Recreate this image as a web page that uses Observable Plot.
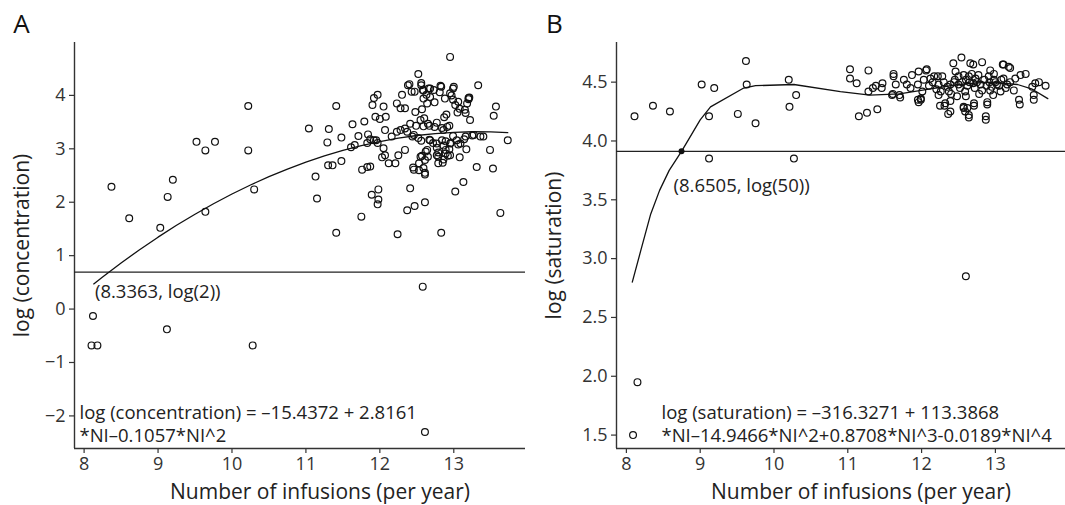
<!DOCTYPE html>
<html><head><meta charset="utf-8">
<script src="https://cdn.jsdelivr.net/npm/d3@7"></script>
<script src="https://cdn.jsdelivr.net/npm/@observablehq/plot@0.6"></script>
<style>
body{margin:0;background:#fff;}
#wrap{position:relative;width:1065px;height:505px;font-family:"Open Sans",sans-serif;}
#a,#b{position:absolute;top:0;}
#a{left:0;}#b{left:532px;}
svg{overflow:visible;}
</style></head><body><div id="wrap"><div id="a"></div><div id="b"></div></div>
<script>
// ---------- Panel A: log(concentration) ----------
const concX = [8.12,8.10,8.18,9.12,10.28,8.37,8.61,9.03,9.13,9.20,9.52,9.64,9.77,9.64,10.22,10.22,10.30,12.58,12.61,
11.04,11.31,11.29,11.48,11.41,11.63,11.79,11.71,11.61,11.66,11.84,11.87,11.95,11.30,11.36,11.48,11.13,11.15,11.76,11.83,11.87,11.98,11.89,11.98,11.97,11.75,11.41,12.24,11.92,11.97,11.90,12.05,11.94,12.00,12.08,12.23,12.30,12.34,12.28,12.38,12.07,12.16,12.23,12.28,12.34,12.05,12.07,12.03,12.12,12.21,12.25,12.34,11.83,11.92,11.97,12.37,
12.95,12.52,12.40,12.56,12.43,12.47,12.58,12.66,12.73,12.82,13.00,12.95,13.33,13.20,13.18,13.06,13.02,13.57,13.54,13.22,13.73,13.27,13.36,13.40,13.16,13.09,13.04,13.49,13.31,13.53,13.13,13.02,13.63,13.08,12.85,12.41,12.47,12.61,12.83,12.48,12.55,12.60,12.67,12.41,12.37,12.44,12.52,12.68,12.77,12.86,12.91,12.84,12.95,12.89,12.95,12.77,12.64,12.57,12.46,12.59,12.61,12.86,
12.56,12.59,12.63,12.68,12.81,12.83,12.99,12.97,12.99,13.20,13.21,13.15,13.16,13.08,13.05,12.94,12.90,12.87,12.84,12.77,12.74,12.65,12.59,12.49,12.57,12.64,12.68,12.59,12.74,12.88,12.46,12.56,12.67,12.72,12.62,12.55,12.61,12.53,12.45,12.61,12.53,12.65,12.79,12.77,12.86,12.79,12.79,12.89,12.92,12.94,12.96,12.99,13.06,12.89,13.17,13.14,13.25];
const concY = [-0.13,-0.68,-0.68,-0.38,-0.68,2.29,1.70,1.52,2.10,2.42,3.13,2.97,3.13,1.82,3.80,2.97,2.24,0.42,-2.30,
3.38,3.37,3.12,3.21,3.80,3.46,3.51,3.24,3.03,3.07,3.27,3.18,3.16,2.69,2.69,2.77,2.48,2.07,2.61,2.66,2.67,2.24,2.14,2.05,1.96,1.73,1.43,1.40,3.95,4.01,3.82,3.79,3.60,3.56,3.60,3.85,4.01,3.76,3.76,4.19,3.35,3.23,3.32,3.35,3.38,3.01,2.88,2.84,2.73,2.73,2.88,2.98,3.11,3.16,3.11,1.85,
4.72,4.40,4.21,4.23,4.07,4.07,4.10,4.13,4.10,4.18,4.16,4.04,4.19,3.95,3.85,3.88,3.82,3.79,3.62,3.54,3.16,3.26,3.23,3.23,3.23,3.10,3.16,2.98,2.66,2.63,2.38,2.20,1.80,2.84,2.74,2.26,1.93,2.00,1.43,3.69,3.54,3.57,3.43,3.47,3.32,3.23,3.20,3.16,3.10,3.35,3.41,3.16,3.10,2.98,2.88,2.88,2.98,2.87,2.61,2.64,2.52,2.80,
4.19,4.09,4.01,4.13,4.06,4.16,4.13,4.00,3.92,3.93,3.96,3.73,3.67,3.75,3.68,3.43,3.64,3.59,3.39,3.49,3.41,3.47,3.42,3.43,3.74,3.85,3.97,3.94,3.87,3.94,3.26,3.15,3.17,3.11,2.95,2.85,2.79,2.73,2.65,2.55,2.60,2.85,2.85,3.02,3.06,2.73,2.93,2.91,2.87,2.99,3.11,3.24,3.08,3.14,2.99,3.18,3.25];
// fitted curve (values of the printed quadratic, sampled)
const fitA_x = [8.13,8.25,8.5,8.75,9,9.25,9.5,9.75,10,10.25,10.5,10.75,11,11.25,11.5,11.75,12,12.25,12.5,12.75,13,13.25,13.5,13.73];
const fitA_y = [0.471,0.601,0.863,1.111,1.346,1.568,1.776,1.972,2.154,2.323,2.479,2.621,2.750,2.866,2.969,3.059,3.135,3.198,3.249,3.285,3.309,3.319,3.316,3.302];
const cutA = [{x: 8.3363, y: 0.6931, label: "(8.3363, log(2))"}];
const eqA = "log (concentration) = \u201315.4372 + 2.8161\n*NI\u20130.1057*NI^2";

// ---------- Panel B: log(saturation) ----------
const satX = [8.09,8.15,12.60,
8.11,8.36,8.59,9.02,9.19,9.12,9.12,9.51,9.62,9.63,9.75,10.20,10.21,10.30,10.27,
11.03,11.03,11.12,11.28,11.15,11.26,11.40,11.28,11.34,11.38,11.47,11.46,11.62,11.65,11.61,11.70,11.76,11.80,11.87,11.96,12.07,11.85,11.95,12.01,11.99,11.95,12.03,12.12,12.17,12.23,
12.54,12.22,12.28,12.26,12.37,12.32,12.39,12.46,12.44,12.57,12.66,12.82,12.64,12.73,12.50,12.59,12.48,12.57,12.62,12.64,12.71,12.82,12.89,12.87,12.93,12.98,12.91,12.98,13.02,13.07,12.93,13.11,13.18,13.11,13.16,13.25,13.32,13.27,13.34,13.41,13.50,13.54,13.59,13.52,13.68,12.23,12.39,12.68,12.77,
12.36,12.57,12.59,12.64,12.87,12.71,12.89,13.33,13.52,11.60,11.71,11.96,11.99,11.62,12.25,12.31,12.39,12.06,12.43,12.70,13.10,13.20,
12.10,12.15,12.20,12.30,12.35,12.45,12.50,12.52,12.55,12.60,12.62,12.65,12.70,12.72,12.75,12.80,12.85,12.88,12.92,12.95,13.00,13.05,12.40,12.60,12.78,12.97,13.08,13.14,13.20];
const satY = [1.50,1.95,2.85,
4.21,4.30,4.25,4.48,4.45,4.21,3.85,4.23,4.68,4.48,4.15,4.52,4.29,4.39,3.85,
4.61,4.53,4.49,4.60,4.21,4.24,4.27,4.42,4.45,4.47,4.49,4.45,4.57,4.48,4.40,4.39,4.52,4.48,4.56,4.59,4.61,4.45,4.48,4.42,4.36,4.35,4.52,4.53,4.55,4.39,
4.71,4.55,4.55,4.42,4.42,4.32,4.25,4.59,4.50,4.56,4.66,4.67,4.55,4.53,4.48,4.42,4.38,4.29,4.28,4.22,4.32,4.43,4.33,4.21,4.60,4.57,4.55,4.52,4.48,4.42,4.43,4.65,4.63,4.53,4.48,4.43,4.35,4.53,4.56,4.57,4.46,4.49,4.50,4.39,4.47,4.48,4.48,4.57,4.56,
4.23,4.28,4.25,4.20,4.18,4.30,4.31,4.31,4.35,4.39,4.37,4.33,4.35,4.55,4.30,4.30,4.34,4.60,4.66,4.65,4.65,4.62,
4.47,4.50,4.44,4.50,4.46,4.52,4.55,4.45,4.50,4.52,4.47,4.50,4.49,4.45,4.50,4.48,4.52,4.47,4.50,4.46,4.50,4.47,4.40,4.38,4.40,4.39,4.52,4.45,4.50];
// fitted curve as drawn
const fitB_x = [8.08,8.20,8.33,8.45,8.58,8.747,9.00,9.14,9.59,9.75,10.27,10.90,11.30,11.70,12.10,12.50,12.90,13.30,13.50,13.71];
const fitB_y = [2.80,3.08,3.38,3.58,3.75,3.912,4.18,4.29,4.45,4.47,4.48,4.42,4.39,4.40,4.44,4.48,4.50,4.48,4.44,4.36];
const cutB = [{x: 8.747, y: 3.912, label: "(8.6505, log(50))"}];
const eqB = "log (saturation) = \u2013316.3271 + 113.3868\n*NI\u201314.9466*NI^2+0.8708*NI^3-0.0189*NI^4";

// ---------- axes ----------
const xTicks = [8, 9, 10, 11, 12, 13];
const yTicksA = [-2, -1, 0, 1, 2, 3, 4];
const yTicksB = [1.5, 2.0, 2.5, 3.0, 3.5, 4.0, 4.5];
const xLabel = "Number of infusions (per year)";
const yLabelA = "log (concentration)";
const yLabelB = "log (saturation)";

function panel(o) {
  const pts = o.px.map((x, i) => ({x, y: o.py[i]}));
  const fit = o.fx.map((x, i) => ({x, y: o.fy[i]}));
  return Plot.plot({
    width: o.width, height: 505,
    marginTop: o.mt, marginBottom: o.mb, marginLeft: o.ml, marginRight: o.mr,
    style: {fontFamily: "Open Sans", background: "white", color: "#333", overflow: "visible"},
    x: {domain: o.xd},
    y: {domain: o.yd},
    marks: [
      Plot.axisX({ticks: xTicks, tickSize: 5, tickPadding: 4, fontSize: 18, label: null, tickFormat: d => String(d), strokeWidth: 1.2}),
      Plot.axisY({ticks: o.yt, tickSize: 5, tickPadding: 4, fontSize: 18, label: null, tickFormat: o.yf, strokeWidth: 1.2}),
      Plot.ruleX([o.xd[0]], {stroke: "#333", strokeWidth: 1.4}),
      Plot.ruleY([o.yd[0]], {stroke: "#333", strokeWidth: 1.4}),
      Plot.ruleY([o.cut[0].y], {stroke: "#222", strokeWidth: 1.2}),
      Plot.line(fit, {x: "x", y: "y", stroke: "#111", strokeWidth: 1.3}),
      Plot.dot(pts, {x: "x", y: "y", r: 3.4, stroke: "#111", fill: "none", strokeWidth: 1.2}),
      o.showDot ? Plot.dot(o.cut, {x: "x", y: "y", r: 3, fill: "#111", stroke: "none"}) : null,
      Plot.text(o.cut, {x: "x", y: "y", text: "label", dx: o.cdx, dy: o.cdy, textAnchor: "start", lineAnchor: "middle", fontSize: 18.5, fill: "#222"}),
      Plot.text([o.eq], {text: d => d, frameAnchor: "bottom-left", dx: o.edx, dy: -25, textAnchor: "start", lineAnchor: "middle", lineHeight: 1.22, fontSize: 18.5, fill: "#222"}),
      Plot.text([xLabel], {text: d => d, frameAnchor: "bottom", dx: 20, dy: 44, textAnchor: "middle", lineAnchor: "middle", fontSize: 21, fill: "#222"}),
      Plot.text([o.yl], {text: d => d, frameAnchor: "left", dx: o.ydx, rotate: -90, textAnchor: "middle", lineAnchor: "middle", fontSize: 21, fill: "#222"}),
      Plot.text([o.tag], {text: d => d, frameAnchor: "top-left", dx: o.tdx, dy: -17.5, textAnchor: "middle", lineAnchor: "middle", fontSize: 26, fill: "#111"})
    ]
  });
}

document.getElementById("a").append(panel({
  width: 532, mt: 42, mb: 57, ml: 74, mr: 7,
  xd: [7.87, 13.97], yd: [-2.61, 4.99], yt: yTicksA, yf: d3.format(""),
  px: concX, py: concY, fx: fitA_x, fy: fitA_y,
  cut: cutA, cdx: -14, cdy: 20, showDot: false,
  eq: eqA, edx: 5, yl: yLabelA, ydx: -52, tag: "A", tdx: -53
}));
document.getElementById("b").append(panel({
  width: 533, mt: 42, mb: 57, ml: 84, mr: 0,
  xd: [7.866, 13.95], yd: [1.386, 4.837], yt: yTicksB, yf: d3.format(".1f"),
  px: satX, py: satY, fx: fitB_x, fy: fitB_y,
  cut: cutB, cdx: -8, cdy: 35, showDot: true,
  eq: eqB, edx: 45, yl: yLabelB, ydx: -62, tag: "B", tdx: -62
}));
</script></body></html>
